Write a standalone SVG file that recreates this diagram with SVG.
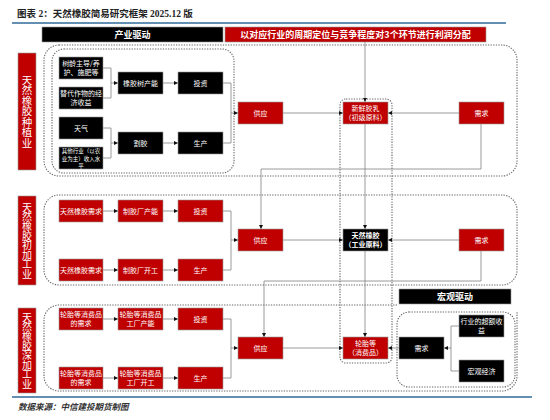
<svg xmlns="http://www.w3.org/2000/svg" width="550" height="420" viewBox="0 0 550 420">
<defs>
<marker id="ar" markerUnits="userSpaceOnUse" markerWidth="4" markerHeight="4" refX="4" refY="2" orient="auto">
<path d="M0,0 L4,2 L0,4 z" fill="#111"/>
</marker>
<style>
text{font-family:"Noto Sans CJK SC","Noto Sans",sans-serif}
.bk{fill:#000;stroke:#999;stroke-width:0.6}
.rd{fill:#C00000;stroke:#999;stroke-width:0.6}
.t{fill:#fff;font-size:7px;text-anchor:middle}
.tb{fill:#fff;font-size:7px;text-anchor:middle;font-weight:700}
.h{fill:#fff;font-size:9px;text-anchor:middle;font-weight:700}
.v{fill:#fff;font-size:10px;text-anchor:middle;writing-mode:vertical-rl;letter-spacing:-0.4px}
.dot{fill:none;stroke:#666;stroke-width:1.1;stroke-dasharray:1.3 1.3}
.ln{fill:none;stroke:#808080;stroke-width:0.8}
.la{fill:none;stroke:#808080;stroke-width:0.8;marker-end:url(#ar)}
</style>
</defs>
<rect width="550" height="420" fill="#fff"/>
<text x="17" y="17" font-size="9.5" font-weight="700" fill="#222" style="font-family:'Liberation Serif','Noto Sans CJK SC',serif">图表 2：天然橡胶简易研究框架 2025.12 版</text>
<line x1="12" y1="23" x2="506" y2="23" stroke="#2E6A99" stroke-width="1.5"/>
<line x1="12" y1="397" x2="532" y2="397" stroke="#2E6A99" stroke-width="1.5"/>
<text x="18" y="410" font-size="8.5" font-style="italic" font-weight="700" fill="#333">数据来源：中信建投期货制图</text>

<g id="headers">
<rect x="42" y="27" width="181" height="15" class="bk"/>
<text x="132.5" y="38" class="h">产业驱动</text>
<rect x="225" y="27" width="261" height="15" class="rd"/>
<text x="355.5" y="38" class="h">以对应行业的周期定位与竞争程度对3个环节进行利润分配</text>
<rect x="399" y="289" width="112" height="15" class="bk"/>
<text x="455" y="300" class="h">宏观驱动</text>
</g>

<g id="frames">
<rect x="44" y="45" width="473" height="131" rx="15" class="dot"/>
<rect x="52" y="49" width="182" height="124" rx="12" class="dot"/>
<rect x="44" y="195" width="473" height="90" rx="15" class="dot"/>
<path d="M397,305 H59 A15,15 0 0 0 44,320 V376 A15,15 0 0 0 59,391 H502 A15,15 0 0 0 517,376 V312" class="dot"/>
<rect x="340" y="99" width="52" height="264" rx="6" class="dot"/>
<rect x="397" y="312" width="118" height="75" rx="12" class="dot"/>
</g>

<g id="labels">
<rect x="18" y="53" width="18" height="117" class="rd"/>
<text x="27" y="111.5" class="v" style="font-size:10.5px;letter-spacing:0px">天然橡胶种植业</text>
<rect x="18" y="196" width="18" height="89" class="rd"/>
<text x="27" y="240.5" class="v">天然橡胶初加工业</text>
<rect x="18" y="308" width="18" height="85" class="rd"/>
<text x="27" y="350.5" class="v">天然橡胶深加工业</text>
</g>

<g id="connectors">
<path d="M103,68 H111 V98 H103" class="ln"/><path d="M111,83 H118" class="la"/>
<path d="M103,128 H111 V158 H103" class="ln"/><path d="M111,143 H118" class="la"/>
<path d="M163,83 H178" class="la"/><path d="M163,143 H178" class="la"/>
<path d="M223,83 H231 V143 H223" class="ln"/><path d="M231,113 H238" class="la"/>
<path d="M283,113 H343" class="la"/><path d="M459,113 H388" class="la"/>
<path d="M365,42 V102" class="la"/>
<path d="M481,124 V169 H261 V229" class="la"/>
<path d="M365,124 V229" class="la"/>

<path d="M103,211 H118" class="la"/><path d="M163,211 H178" class="la"/>
<path d="M103,270 H118" class="la"/><path d="M163,270 H178" class="la"/>
<path d="M223,211 H231 V270 H223" class="ln"/><path d="M231,240 H238" class="la"/>
<path d="M283,240 H343" class="la"/><path d="M459,240 H388" class="la"/>
<path d="M481,251 V281 H264 V337" class="la"/>
<path d="M365,251 V337" class="la"/>

<path d="M103,319 H118" class="la"/><path d="M163,319 H178" class="la"/>
<path d="M103,378 H118" class="la"/><path d="M163,378 H178" class="la"/>
<path d="M223,319 H231 V378 H223" class="ln"/><path d="M231,348 H238" class="la"/>
<path d="M283,348 H343" class="la"/><path d="M399,348 H388" class="la"/>
<path d="M459,326 H451 V371 H459" class="ln"/><path d="M451,348 H444" class="la"/>
</g>

<g id="n-shuling"><rect x="59" y="57" width="44" height="22" class="bk"/><text class="t"><tspan x="81" y="66">树龄主导/养</tspan><tspan x="81" y="75">护、施肥等</tspan></text></g>
<g id="n-tidai"><rect x="59" y="87" width="44" height="22" class="bk"/><text class="t"><tspan x="81" y="96">替代作物的经</tspan><tspan x="81" y="105">济收益</tspan></text></g>
<g id="n-tianqi"><rect x="59" y="117" width="44" height="22" class="bk"/><text x="81" y="130.5" class="t">天气</text></g>
<g id="n-qita"><rect x="59" y="147" width="44" height="22" class="bk"/><text class="t" style="font-size:5.5px"><tspan x="81" y="153.4">其他行业（以农</tspan><tspan x="81" y="160.7">业为主）收入水</tspan><tspan x="81" y="168">平</tspan></text></g>
<g id="n-xjs"><rect x="118" y="72" width="45" height="22" class="bk"/><text x="140.5" y="85.5" class="t">橡胶树产能</text></g>
<g id="n-gejiao"><rect x="118" y="132" width="45" height="22" class="bk"/><text x="140.5" y="145.5" class="t">割胶</text></g>
<g id="n-tz1"><rect x="178" y="72" width="45" height="22" class="bk"/><text x="200.5" y="85.5" class="t">投资</text></g>
<g id="n-sc1"><rect x="178" y="132" width="45" height="22" class="bk"/><text x="200.5" y="145.5" class="t">生产</text></g>
<g id="n-gy1"><rect x="238" y="102" width="45" height="22" class="rd"/><text x="260.5" y="115.5" class="t">供应</text></g>
<g id="n-xianjiaoru"><rect x="343" y="102" width="45" height="22" class="rd"/><text class="t"><tspan x="365.5" y="111">新鲜胶乳</tspan><tspan x="365.5" y="120">（初级原料）</tspan></text></g>
<g id="n-xq1"><rect x="459" y="102" width="45" height="22" class="rd"/><text x="481.5" y="115.5" class="t">需求</text></g>

<g id="n-trxq1"><rect x="59" y="200" width="44" height="22" class="rd"/><text x="81" y="213.5" class="t">天然橡胶需求</text></g>
<g id="n-trxq2"><rect x="59" y="259" width="44" height="22" class="rd"/><text x="81" y="272.5" class="t">天然橡胶需求</text></g>
<g id="n-zjcn"><rect x="118" y="200" width="45" height="22" class="rd"/><text x="140.5" y="213.5" class="t">制胶厂产能</text></g>
<g id="n-zjkg"><rect x="118" y="259" width="45" height="22" class="rd"/><text x="140.5" y="272.5" class="t">制胶厂开工</text></g>
<g id="n-tz2"><rect x="178" y="200" width="45" height="22" class="rd"/><text x="200.5" y="213.5" class="t">投资</text></g>
<g id="n-sc2"><rect x="178" y="259" width="45" height="22" class="rd"/><text x="200.5" y="272.5" class="t">生产</text></g>
<g id="n-gy2"><rect x="238" y="229" width="45" height="22" class="rd"/><text x="260.5" y="242.5" class="t">供应</text></g>
<g id="n-trxj"><rect x="343" y="229" width="45" height="22" class="bk"/><text class="tb"><tspan x="365.5" y="238">天然橡胶</tspan><tspan x="365.5" y="247">（工业原料）</tspan></text></g>
<g id="n-xq2"><rect x="459" y="229" width="45" height="22" class="rd"/><text x="481.5" y="242.5" class="t">需求</text></g>

<g id="n-ltxq1"><rect x="59" y="308" width="44" height="22" class="rd"/><text class="t"><tspan x="81" y="317">轮胎等消费品</tspan><tspan x="81" y="326">的需求</tspan></text></g>
<g id="n-ltxq2"><rect x="59" y="367" width="44" height="22" class="rd"/><text class="t"><tspan x="81" y="376">轮胎等消费品</tspan><tspan x="81" y="385">的需求</tspan></text></g>
<g id="n-ltcn"><rect x="118" y="308" width="45" height="22" class="rd"/><text class="t"><tspan x="140.5" y="317">轮胎等消费品</tspan><tspan x="140.5" y="326">工厂产能</tspan></text></g>
<g id="n-ltkg"><rect x="118" y="367" width="45" height="22" class="rd"/><text class="t"><tspan x="140.5" y="376">轮胎等消费品</tspan><tspan x="140.5" y="385">工厂开工</tspan></text></g>
<g id="n-tz3"><rect x="178" y="308" width="45" height="22" class="rd"/><text x="200.5" y="321.5" class="t">投资</text></g>
<g id="n-sc3"><rect x="178" y="367" width="45" height="22" class="rd"/><text x="200.5" y="380.5" class="t">生产</text></g>
<g id="n-gy3"><rect x="238" y="337" width="45" height="22" class="rd"/><text x="260.5" y="350.5" class="t">供应</text></g>
<g id="n-luntai"><rect x="343" y="337" width="45" height="22" class="rd"/><text class="t"><tspan x="365.5" y="346">轮胎等</tspan><tspan x="365.5" y="355">（消费品）</tspan></text></g>
<g id="n-xq3"><rect x="399" y="337" width="45" height="22" class="bk"/><text x="421.5" y="350.5" class="t">需求</text></g>
<g id="n-chaoe"><rect x="459" y="315" width="45" height="22" class="bk"/><text class="t"><tspan x="481.5" y="324">行业的超额收</tspan><tspan x="481.5" y="333">益</tspan></text></g>
<g id="n-hongguan"><rect x="459" y="360" width="45" height="22" class="bk"/><text x="481.5" y="373.5" class="t">宏观经济</text></g>
</svg>
